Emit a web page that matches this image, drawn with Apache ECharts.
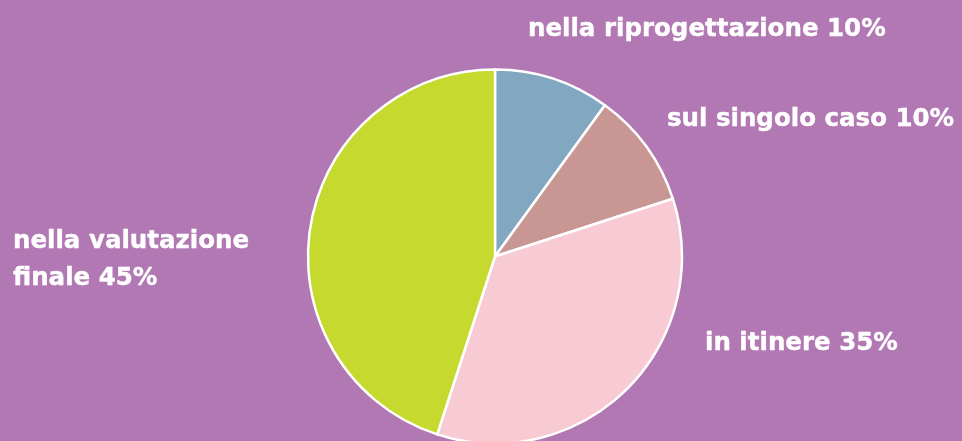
<!DOCTYPE html>
<html>
<head>
<meta charset="utf-8">
<script src="https://cdn.jsdelivr.net/npm/echarts@6/dist/echarts.min.js"></script>
<style>
  html, body { margin: 0; padding: 0; background: #b278b3; }
  #chart { width: 962px; height: 441px; }
</style>
</head>
<body>
<div id="chart"></div>
<script>
// fasi della valutazione
var categories = ['nella riprogettazione', 'sul singolo caso', 'in itinere', 'nella valutazione\nfinale'];
var values = [10, 10, 35, 45];
var colors = ['#82a7c0', '#c99793', '#f8cad4', '#c6d92e'];
// posizione delle etichette (x sinistra, y centro)
var labelPos = [[528, 30], [667, 120], [705, 344], [13, 260]];

var myChart = echarts.init(document.getElementById('chart'));

myChart.setOption({
    backgroundColor: '#b278b3',
    animation: false,
    color: colors,
    series: [{
        type: 'pie',
        center: [495, 256.5],
        radius: 187,
        startAngle: 90,
        clockwise: true,
        data: categories.map(function (c, i) {
            return { name: c, value: values[i] };
        }),
        itemStyle: {
            borderColor: '#ffffff',
            borderWidth: 2.5
        },
        label: {
            show: true,
            position: 'outside',
            color: '#ffffff',
            fontFamily: 'DejaVu Sans',
            fontWeight: 'bold',
            fontSize: 24.5,
            lineHeight: 37,
            overflow: 'none',
            textBorderColor: '#ffffff',
            textBorderWidth: 0.4,
            formatter: function (p) {
                return p.name + ' ' + p.value + '%';
            }
        },
        labelLine: { show: false },
        labelLayout: function (params) {
            var pos = labelPos[params.dataIndex];
            return {
                x: pos[0],
                y: pos[1],
                align: 'left',
                verticalAlign: 'middle',
                width: 400
            };
        }
    }]
});
</script>
</body>
</html>
